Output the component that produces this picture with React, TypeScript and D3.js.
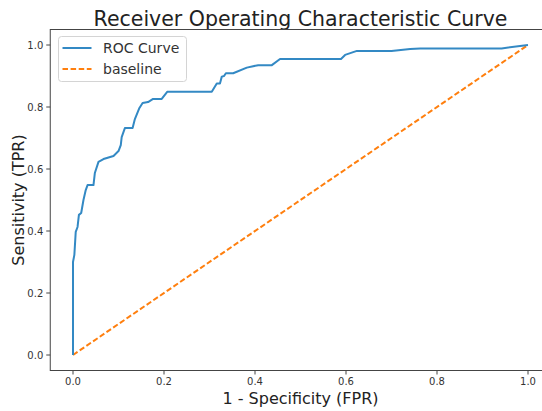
import React from "react";
import * as d3 from "d3";

const fpr = [0, 0, 0.003, 0.006, 0.010, 0.013, 0.018, 0.023, 0.028, 0.032, 0.045, 0.048, 0.056, 0.067, 0.089, 0.100, 0.105, 0.107, 0.114, 0.131, 0.136, 0.146, 0.153, 0.165, 0.176, 0.195, 0.207, 0.305, 0.316, 0.323, 0.327, 0.332, 0.336, 0.352, 0.382, 0.407, 0.437, 0.455, 0.589, 0.598, 0.624, 0.700, 0.741, 0.763, 0.942, 1.0];
const tpr = [0, 0.300, 0.323, 0.397, 0.413, 0.452, 0.458, 0.500, 0.532, 0.548, 0.548, 0.587, 0.623, 0.632, 0.642, 0.658, 0.677, 0.703, 0.732, 0.732, 0.761, 0.797, 0.813, 0.816, 0.826, 0.826, 0.849, 0.849, 0.876, 0.876, 0.898, 0.900, 0.909, 0.909, 0.927, 0.935, 0.935, 0.955, 0.955, 0.968, 0.981, 0.981, 0.987, 0.989, 0.989, 1.0];
const baselineX = [0, 1];
const baselineY = [0, 1];
const xTicks = [0, 0.2, 0.4, 0.6, 0.8, 1.0];
const yTicks = [0, 0.2, 0.4, 0.6, 0.8, 1.0];
const seriesNames = ["ROC Curve", "baseline"];
const title = "Receiver Operating Characteristic Curve";
const xLabel = "1 - Specificity (FPR)";
const yLabel = "Sensitivity (TPR)";

const W = 542;
const H = 411;
const left = 50.25;
const right = 550.75;
const top = 29.5;
const bottom = 370.5;
const FONT = "DejaVu Sans, sans-serif";
const BLUE = "#3389c4";
const ORANGE = "#ff7f0e";
const TXT = "#333";

export default function App() {
  const x = d3.scaleLinear().domain([-0.05, 1.05]).range([left, right]);
  const y = d3.scaleLinear().domain([-0.05, 1.05]).range([bottom, top]);
  const line = d3
    .line<number>()
    .x((_, i) => x(fpr[i]))
    .y((d) => y(d));
  const base = d3
    .line<number>()
    .x((_, i) => x(baselineX[i]))
    .y((d) => y(d));

  return (
    <svg
      width={W}
      height={H}
      style={{ position: "absolute", left: 0, top: 0, background: "#fff" }}
      fontFamily={FONT}
    >
      <rect x={0} y={0} width={W} height={H} fill="#fff" />
      <text x={(left + right) / 2} y={26} textAnchor="middle" fontSize={20.5} fill="#222">
        {title}
      </text>
      <path d={base(baselineY) || ""} fill="none" stroke={ORANGE} strokeWidth={2} strokeDasharray="5.5,2.6" />
      <path d={line(tpr) || ""} fill="none" stroke={BLUE} strokeWidth={2} strokeLinejoin="round" />
      {/* spines */}
      <rect x={left} y={top} width={right - left} height={bottom - top} fill="none" stroke="#444" strokeWidth={1} />
      {xTicks.map((t) => (
        <g key={"x" + t}>
          <line x1={x(t)} x2={x(t)} y1={bottom} y2={bottom + 4} stroke="#444" />
          <text x={x(t)} y={bottom + 14.5} textAnchor="middle" fontSize={10} fill={TXT}>
            {t.toFixed(1)}
          </text>
        </g>
      ))}
      {yTicks.map((t) => (
        <g key={"y" + t}>
          <line x1={left - 4} x2={left} y1={y(t)} y2={y(t)} stroke="#444" />
          <text x={left - 7} y={y(t) + 3.6} textAnchor="end" fontSize={10} fill={TXT}>
            {t.toFixed(1)}
          </text>
        </g>
      ))}
      <text x={(left + right) / 2} y={404} textAnchor="middle" fontSize={16} fill="#222">
        {xLabel}
      </text>
      <text
        transform={`translate(24, ${(top + bottom) / 2}) rotate(-90)`}
        textAnchor="middle"
        fontSize={16}
        fill="#222"
      >
        {yLabel}
      </text>
      {/* legend */}
      <rect x={58.5} y={36.5} width={128} height={45} rx={3} fill="#fff" fillOpacity={0.8} stroke="#d4d4d4" />
      <line x1={62.5} x2={91.5} y1={48} y2={48} stroke={BLUE} strokeWidth={2} />
      <text x={103} y={53} fontSize={14} fill={TXT}>
        {seriesNames[0]}
      </text>
      <line x1={62.5} x2={91.5} y1={69} y2={69} stroke={ORANGE} strokeWidth={2} strokeDasharray="5.5,2.6" />
      <text x={103} y={74} fontSize={14} fill={TXT}>
        {seriesNames[1]}
      </text>
    </svg>
  );
}
